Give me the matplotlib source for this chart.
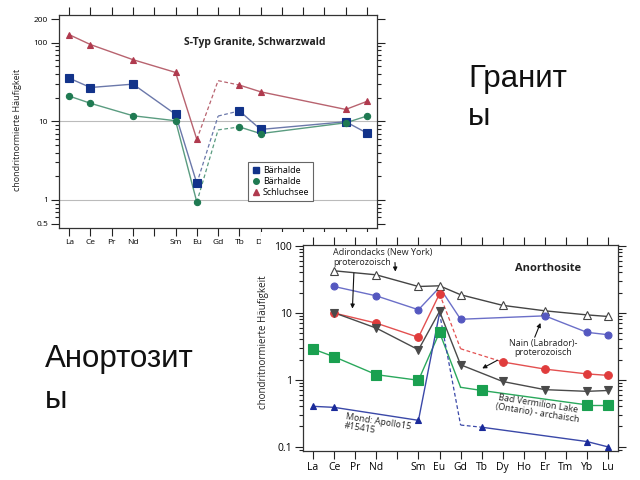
import numpy as np
import matplotlib.pyplot as plt
from matplotlib.patches import Rectangle
from matplotlib.lines import Line2D
from matplotlib.ticker import LogLocator, NullFormatter, FixedLocator, FixedFormatter

nan = np.nan

# Seltene Erden (Pm ohne Beschriftung)
elements = ['La', 'Ce', 'Pr', 'Nd', 'Pm', 'Sm', 'Eu', 'Gd', 'Tb', 'Dy', 'Ho', 'Er', 'Tm', 'Yb', 'Lu']
tick_labels = ['La', 'Ce', 'Pr', 'Nd', '', 'Sm', 'Eu', 'Gd', 'Tb', 'Dy', 'Ho', 'Er', 'Tm', 'Yb', 'Lu']
# obere Grafik: rechter Teil der Beschriftung liegt unter der unteren Grafik
tick_labels_top = ['La', 'Ce', 'Pr', 'Nd', '', 'Sm', 'Eu', 'Gd', 'Tb', 'Dy', '', '', '', '', '']

# --- S-Typ Granite, Schwarzwald ---
#                 La    Ce   Pr   Nd   Pm   Sm    Eu    Gd    Tb    Dy    Ho   Er   Tm   Yb    Lu
schluchsee = [127, 95, nan, 61, nan, 42, 5.9, 33, 29, 23.8, nan, nan, nan, 14.2, 18]
baer_sq = [35.5, 27, nan, 29.8, nan, 12.3, 1.63, 11.7, 13.6, 7.9, nan, nan, nan, 9.9, 7.1]
baer_ci = [21, 17, nan, 11.8, nan, 10.2, 0.94, 7.8, 8.5, 7.0, nan, nan, nan, 9.6, 11.7]

# --- Anorthosite ---
adirondacks = [nan, 42.4, nan, 36.9, nan, 24.7, 25.3, 18.6, nan, 12.9, nan, 10.7, nan, 9.3, 8.8]
nain_blue = [nan, 24.7, nan, 17.9, nan, 11.1, 24.0, 8.0, nan, nan, nan, 9.0, nan, 5.1, 4.7]
red_series = [nan, 9.9, nan, 7.0, nan, 4.3, 19.2, 2.9, nan, 1.84, nan, 1.44, nan, 1.22, 1.16]
nain_gray = [nan, 10.0, nan, 5.9, nan, 2.8, 10.5, 1.67, nan, 0.94, nan, 0.71, nan, 0.67, 0.69]
vermilion = [2.87, 2.2, nan, 1.19, nan, 0.98, 5.1, 0.77, 0.69, nan, nan, nan, nan, 0.42, 0.42]
apollo = [0.40, 0.386, nan, nan, nan, 0.247, 9.9, 0.21, 0.195, nan, nan, nan, nan, 0.119, 0.099]


def draw_series(ax, vals, color, lcolor, marker, ms, hidden=(), dashed=(), mfc=None, ls_dash=(0, (3, 2))):
    x = np.arange(len(vals))
    v = np.array(vals, dtype=float)
    idx = [i for i in x if not np.isnan(v[i])]
    for a, b in zip(idx[:-1], idx[1:]):
        if (a, b) in dashed:
            ax.plot([a, b], [v[a], v[b]], color=lcolor, lw=0.9, ls=ls_dash, zorder=2)
        else:
            ax.plot([a, b], [v[a], v[b]], color=lcolor, lw=1.0, zorder=2)
    mi = [i for i in idx if i not in hidden]
    ax.plot(mi, v[mi], ls='none', marker=marker, ms=ms, color=color,
            mfc=mfc if mfc else color, mec=color, mew=0.8, zorder=3)


def style_axes(ax, fs, labels):
    ax.set_yscale('log')
    ax.set_xlim(-0.48, 14.47)
    ax.xaxis.set_major_locator(FixedLocator(range(len(elements))))
    ax.xaxis.set_major_formatter(FixedFormatter(labels))
    ax.yaxis.set_minor_locator(LogLocator(base=10, subs=np.arange(2, 10)))
    ax.yaxis.set_minor_formatter(NullFormatter())
    ax.tick_params(which='both', direction='out', top=True, right=True, labelsize=fs, color='#222222', width=0.8)
    ax.tick_params(which='major', length=6, pad=2)
    ax.tick_params(which='minor', length=3)
    for s in ax.spines.values():
        s.set_linewidth(0.9)
        s.set_color('#333333')


plt.rcParams['font.family'] = ['Open Sans', 'DejaVu Sans']
fig = plt.figure(figsize=(6.4, 4.8), dpi=100)

# ---------- Granite ----------
ax1 = fig.add_axes([59 / 640, 1 - 228 / 480, 318 / 640, 213 / 480])
ax1.set_zorder(0)
style_axes(ax1, 6, tick_labels_top)
ax1.set_ylim(0.44, 226)
ax1.set_yticks([0.5, 1, 10, 100, 200])
ax1.set_yticklabels(['0.5', '1', '10', '100', '200'])
for g in [1, 10]:
    ax1.axhline(g, color='#bbbbbb', lw=0.8, zorder=1)

dash_top = [(6, 7), (7, 8)]
draw_series(ax1, schluchsee, '#b03a4e', '#b8636f', '^', 4.5, hidden=(7,), dashed=dash_top)
draw_series(ax1, baer_sq, '#12338a', '#6b78aa', 's', 5.5, hidden=(7,), dashed=dash_top)
draw_series(ax1, baer_ci, '#1f7a52', '#5a9c80', 'o', 4.5, hidden=(7,), dashed=dash_top)

ax1.text(0.616, 0.873, 'S-Typ Granite, Schwarzwald', transform=ax1.transAxes,
         ha='center', va='center', fontsize=7.5, fontweight='bold', color='#222222')
ax1.set_ylabel('chondritnormierte Häufigkeit', fontsize=6.5, color='#222222')
ax1.yaxis.set_label_coords(-0.115, 0.46)

handles = [Line2D([], [], ls='none', marker='s', ms=5, color='#12338a'),
           Line2D([], [], ls='none', marker='o', ms=4, color='#1f7a52'),
           Line2D([], [], ls='none', marker='^', ms=4, color='#b03a4e')]
leg = ax1.legend(handles, ['Bärhalde', 'Bärhalde', 'Schluchsee'], loc='upper left',
                 bbox_to_anchor=(0.579, 0.33), fontsize=6.5, fancybox=False,
                 edgecolor='#666666', framealpha=1, handletextpad=0.3, handlelength=1.0,
                 borderpad=0.4, labelspacing=0.25)
leg.get_frame().set_linewidth(0.8)

# weisser Hintergrund der unteren Grafik
fig.patches.append(Rectangle((261 / 640, 0), 1, 1 - 232 / 480, transform=fig.transFigure,
                             facecolor='white', edgecolor='none', zorder=1))

# ---------- Anorthosite ----------
ax2 = fig.add_axes([303 / 640, 1 - 451 / 480, 315 / 640, 206 / 480])
ax2.set_zorder(2)
style_axes(ax2, 7.5, tick_labels)
ax2.set_ylim(0.086, 103)
ax2.set_yticks([0.1, 1, 10, 100])
ax2.set_yticklabels(['0.1', '1', '10', '100'])

draw_series(ax2, adirondacks, '#444444', '#444444', '^', 5.5, mfc='white')
draw_series(ax2, nain_blue, '#5558c0', '#6b6fc8', 'o', 5, hidden=(6,))
draw_series(ax2, red_series, '#e03c3c', '#e35050', 'o', 5.5, hidden=(7,), dashed=[(6, 7), (7, 9)])
draw_series(ax2, nain_gray, '#4a4a4a', '#4a4a4a', 'v', 5.5)
draw_series(ax2, vermilion, '#1aa050', '#2aa85c', 's', 6.5, hidden=(7,))
draw_series(ax2, apollo, '#1a2a9a', '#3a48a8', '^', 5, hidden=(6, 7), dashed=[(6, 7), (7, 8)])

ax2.set_ylabel('chondritnormierte Häufigkeit', fontsize=7, color='#222222')
ax2.yaxis.set_label_coords(-0.108, 0.53)

ax2.text(0.778, 0.887, 'Anorthosite', transform=ax2.transAxes, ha='center', va='center',
         fontsize=8, fontweight='bold', color='#222222')
ax2.text(0.095, 0.985, 'Adirondacks (New York)\nproterozoisch', transform=ax2.transAxes,
         ha='left', va='top', fontsize=6.5, linespacing=1.1, color='#222222')
ax2.text(0.762, 0.50, 'Nain (Labrador)-\nproterozoisch', transform=ax2.transAxes,
         ha='center', va='center', fontsize=6.5, linespacing=1.1, color='#222222')
ax2.text(0.745, 0.205, 'Bad Vermilion Lake\n(Ontario) - archaisch', transform=ax2.transAxes,
         ha='center', va='center', fontsize=6.5, linespacing=1.1, rotation=-9, color='#222222')
ax2.text(0.13, 0.12, 'Mond: Apollo15\n#15415', transform=ax2.transAxes,
         ha='left', va='center', fontsize=6.5, linespacing=1.1, rotation=-9, color='#222222')

arrow = dict(arrowstyle='-|>', color='#111111', lw=0.8, mutation_scale=6)
ax2.annotate('', xy=(1.86, 10.5), xytext=(1.94, 43), arrowprops=arrow)
ax2.annotate('', xy=(3.91, 37.5), xytext=(3.88, 62), arrowprops=arrow)
ax2.annotate('', xy=(10.84, 7.7), xytext=(10.47, 3.95), arrowprops=arrow)
ax2.annotate('', xy=(7.91, 1.41), xytext=(8.86, 2.04), arrowprops=arrow)

# ---------- Folientext ----------
fig.text(468 / 640, 1 - 87 / 480, 'Гранит', family='Liberation Sans', fontsize=22.5,
         ha='left', va='baseline', color='#111111')
fig.text(468 / 640, 1 - 125 / 480, 'ы', family='Liberation Sans', fontsize=22.5,
         ha='left', va='baseline', color='#111111')
fig.text(45 / 640, 1 - 367 / 480, 'Анортозит', family='Liberation Sans', fontsize=22.5,
         ha='left', va='baseline', color='#111111')
fig.text(45 / 640, 1 - 408 / 480, 'ы', family='Liberation Sans', fontsize=22.5,
         ha='left', va='baseline', color='#111111')

fig.savefig('out.png', dpi=100, facecolor='white')
